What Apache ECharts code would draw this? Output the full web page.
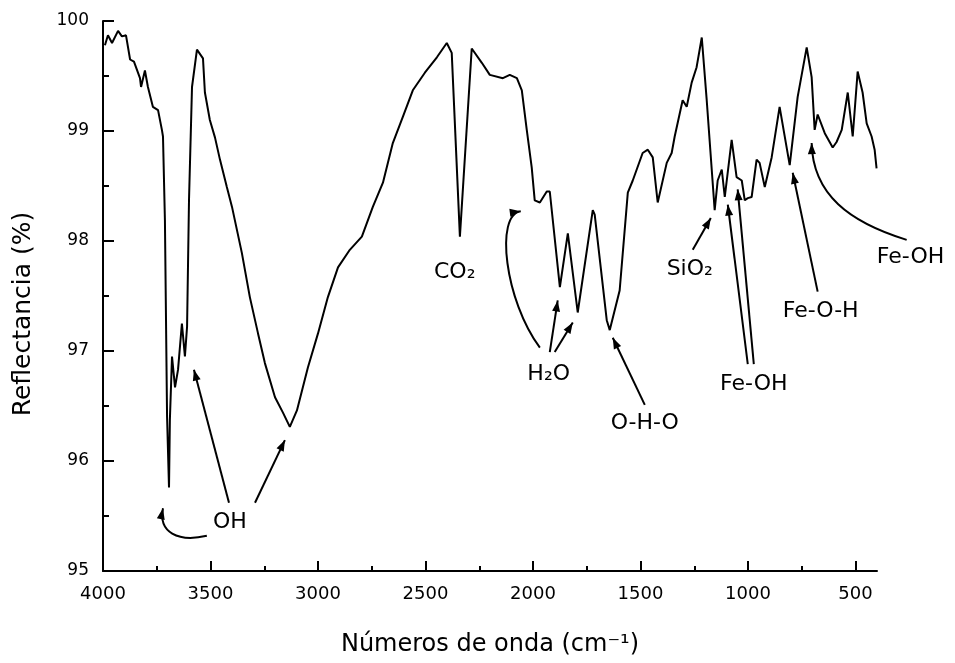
<!DOCTYPE html>
<html>
<head>
<meta charset="utf-8">
<script src="https://cdn.jsdelivr.net/npm/echarts@6/dist/echarts.min.js"></script>
<style>html,body{margin:0;padding:0;background:#fff}#c{width:955px;height:663px}</style>
</head>
<body>
<div id="c"></div>
<script>
// Wavenumber (cm-1) and reflectance (%)
const wavenumber = [3991,3977,3958,3930,3912,3893,3874,3856,3828,3823,3805,3791,3768,3744,3726,3721,3712,3702,3693,3689,3679,3665,3651,3633,3619,3609,3600,3586,3563,3535,3526,3503,3479,3456,3424,3400,3354,3317,3279,3247,3200,3163,3131,3098,3047,3000,2954,2907,2852,2796,2745,2698,2652,2605,2559,2503,2447,2401,2396,2378,2340,2285,2238,2201,2140,2108,2075,2052,2029,2006,1992,1968,1936,1922,1875,1838,1792,1722,1713,1657,1643,1597,1559,1536,1490,1466,1443,1420,1378,1355,1341,1304,1285,1262,1239,1215,1192,1155,1141,1122,1108,1076,1053,1029,1015,1001,983,960,946,922,890,853,806,769,727,704,690,676,643,606,588,564,536,513,490,467,448,425,411,402];
const reflectance = [99.78,99.87,99.80,99.91,99.86,99.87,99.65,99.63,99.48,99.40,99.55,99.40,99.22,99.19,99.01,98.95,98.19,96.40,95.76,96.37,96.95,96.67,96.83,97.25,96.95,97.22,98.37,99.40,99.74,99.66,99.35,99.10,98.94,98.74,98.49,98.31,97.89,97.49,97.16,96.89,96.58,96.44,96.31,96.46,96.85,97.16,97.49,97.76,97.92,98.04,98.31,98.53,98.89,99.13,99.37,99.53,99.67,99.80,99.81,99.71,98.04,99.75,99.62,99.51,99.48,99.51,99.48,99.37,99.01,98.67,98.37,98.35,98.45,98.45,97.58,98.07,97.35,98.28,98.24,97.28,97.19,97.55,98.44,98.55,98.80,98.83,98.76,98.35,98.71,98.80,98.95,99.28,99.22,99.44,99.58,99.85,99.28,98.28,98.55,98.65,98.40,98.92,98.58,98.55,98.37,98.39,98.40,98.74,98.71,98.49,98.76,99.22,98.69,99.31,99.76,99.49,99.01,99.15,98.98,98.85,98.90,99.01,99.35,98.95,99.54,99.35,99.07,98.95,98.83,98.66];

const xMajorTicks = [500,1000,1500,2000,2500,3000,3500,4000];
const xMinorTicks = [750,1250,1750,2250,2750,3250,3750];

// Annotation labels in data coordinates [wavenumber, reflectance]
const annotationLabels = [
  {text:'OH', x:3410, y:95.44},
  {text:'CO₂', x:2364, y:97.72},
  {text:'H₂O', x:1927, y:96.79},
  {text:'O-H-O', x:1480, y:96.34},
  {text:'SiO₂', x:1271, y:97.74},
  {text:'Fe-OH', x:973, y:96.70},
  {text:'Fe-O-H', x:662, y:97.36},
  {text:'Fe-OH', x:244, y:97.85}
];
// straight arrows [x1,y1,x2(tip),y2(tip)]
const straightArrows = [
  [3414,95.62,3577,96.83],
  [3293,95.62,3154,96.19],
  [1922,96.99,1885,97.46],
  [1899,96.99,1815,97.26],
  [1480,96.51,1629,97.12],
  [1257,97.92,1173,98.21],
  [1001,96.88,1094,98.33],
  [973,96.88,1048,98.47],
  [676,97.54,792,98.62]
];
// curved arrows [start, cp1, cp2, tip]
const curvedArrows = [
  [3517,95.32,3651,95.26,3744,95.35,3721,95.57],
  [1968,97.03,2131,97.46,2178,98.24,2057,98.27],
  [262,98.01,527,98.17,699,98.42,704,98.89]
];

const FONT = 'DejaVu Sans';
const chart = echarts.init(document.getElementById('c'));
const seriesData = wavenumber.map((w,i)=>[w, reflectance[i]]);
const plain = v => String(v);

chart.setOption({
  animation:false,
  grid:{left:103, right:78, top:21, bottom:92},
  xAxis:[{
    type:'value', min:400, max:4000, inverse:true,
    axisLine:{show:true, onZero:false, lineStyle:{color:'#000', width:2}},
    axisTick:{show:true, inside:true, length:10, customValues:xMajorTicks, lineStyle:{color:'#000', width:2}},
    axisLabel:{customValues:xMajorTicks, formatter:plain, color:'#000', fontFamily:FONT, fontSize:18, margin:14},
    splitLine:{show:false},
    name:'Números de onda (cm⁻¹)', nameLocation:'middle', nameGap:62,
    nameTextStyle:{color:'#000', fontFamily:FONT, fontSize:24}
  },{
    type:'value', min:400, max:4000, inverse:true, position:'bottom',
    axisLine:{show:false, onZero:false},
    axisTick:{show:true, inside:true, length:5, customValues:xMinorTicks, lineStyle:{color:'#000', width:2}},
    axisLabel:{show:false}, splitLine:{show:false}
  }],
  yAxis:{
    type:'value', min:95, max:100, interval:1,
    axisLine:{show:true, lineStyle:{color:'#000', width:2}},
    axisTick:{show:true, inside:true, length:11, lineStyle:{color:'#000', width:2}},
    minorTick:{show:true, splitNumber:2, length:6, lineStyle:{color:'#000', width:2}},
    axisLabel:{formatter:plain, color:'#000', fontFamily:FONT, fontSize:17, margin:14},
    splitLine:{show:false}
  },
  series:[{
    type:'line', data:seriesData, showSymbol:false, symbol:'none',
    lineStyle:{color:'#000', width:2}, xAxisIndex:0, yAxisIndex:0
  }]
});

function toPx(x,y){
  const a = chart.convertToPixel({xAxisIndex:0,yAxisIndex:0},[400,95]);
  const b = chart.convertToPixel({xAxisIndex:0,yAxisIndex:0},[4000,100]);
  return [a[0]+(x-400)/3600*(b[0]-a[0]), a[1]+(y-95)/5*(b[1]-a[1])];
}
function head(from, tip){
  const dx=tip[0]-from[0], dy=tip[1]-from[1];
  const L=Math.hypot(dx,dy)||1, ux=dx/L, uy=dy/L;
  const len=11, w=4;
  const bx=tip[0]-ux*len, by=tip[1]-uy*len;
  return {type:'polygon', shape:{points:[[tip[0],tip[1]],[bx-uy*w,by+ux*w],[bx+uy*w,by-ux*w]]}, style:{fill:'#000'}};
}
const g = [];
g.push({type:'text', x:23, y:314, rotation:Math.PI/2,
  style:{text:'Reflectancia (%)', fill:'#000', font:'25px "'+FONT+'"', textAlign:'center', textVerticalAlign:'middle'}});
annotationLabels.forEach(l=>{
  const p=toPx(l.x,l.y);
  g.push({type:'text', x:p[0], y:p[1], style:{text:l.text, fill:'#000', font:'22px "'+FONT+'"', textAlign:'center', textVerticalAlign:'middle'}});
});
straightArrows.forEach(a=>{
  const p1=toPx(a[0],a[1]), p2=toPx(a[2],a[3]);
  g.push({type:'line', shape:{x1:p1[0],y1:p1[1],x2:p2[0],y2:p2[1]}, style:{stroke:'#000', lineWidth:2}});
  g.push(head(p1,p2));
});
curvedArrows.forEach(a=>{
  const s=toPx(a[0],a[1]), c1=toPx(a[2],a[3]), c2=toPx(a[4],a[5]), e=toPx(a[6],a[7]);
  g.push({type:'bezierCurve', shape:{x1:s[0],y1:s[1],cpx1:c1[0],cpy1:c1[1],cpx2:c2[0],cpy2:c2[1],x2:e[0],y2:e[1]}, style:{stroke:'#000', lineWidth:2, fill:null}});
  g.push(head(c2,e));
});
chart.setOption({graphic:g});
</script>
</body>
</html>
